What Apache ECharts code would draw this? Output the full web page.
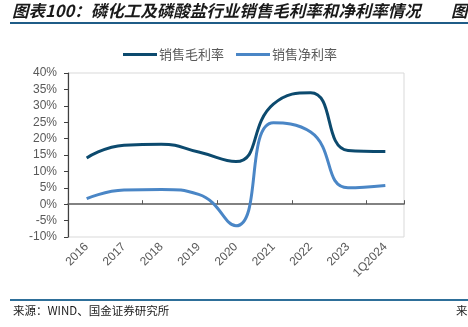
<!DOCTYPE html>
<html><head><meta charset="utf-8">
<script src="https://cdn.jsdelivr.net/npm/echarts@6/dist/echarts.min.js"></script>
<style>html,body{margin:0;padding:0;background:#fff}#c{width:468px;height:327px}</style>
</head><body><div id="c"></div>
<script>
var categories = ['2016','2017','2018','2019','2020','2021','2022','2023','1Q2024'];
var grossMargin = [14.1, 18.0, 18.3, 15.9, 13.0, 30.5, 34.0, 16.4, 16.1];
var netMargin = [1.7, 4.3, 4.5, 3.0, -6.6, 24.8, 22.0, 5.0, 5.7];
var yTicks = {min: -10, max: 40, interval: 5};
var seriesNames = ['销售毛利率', '销售净利率'];
var titleText = '图表100：磷化工及磷酸盐行业销售毛利率和净利率情况';
var sourceText = '来源：WIND、国金证券研究所';

var chart = echarts.init(document.getElementById('c'), null, {renderer: 'canvas'});
var axisFont = 'Liberation Sans, Arial, sans-serif';
chart.setOption({
  animation: false,
  grid: {left: 68, right: 64, top: 73, bottom: 90, show: true, borderColor: '#d9d9d9', borderWidth: 1},
  legend: {
    left: 118, top: 43, icon: 'rect', itemWidth: 34, itemHeight: 3, itemGap: 12,
    textStyle: {color: '#595959', fontSize: 13, fontFamily: 'Noto Sans CJK SC', padding: [0, 0, 0, -3]},
    data: seriesNames
  },
  xAxis: [{
    type: 'category', data: categories, boundaryGap: true,
    axisLine: {show: false, onZero: false}, axisTick: {show: false},
    axisLabel: {rotate: 45, color: '#595959', fontSize: 12, fontFamily: axisFont, margin: 8, interval: 0}
  }, {
    type: 'category', data: categories, boundaryGap: true, position: 'bottom',
    axisLine: {show: true, onZero: true, lineStyle: {color: '#595959', width: 1.5}},
    axisTick: {show: true, inside: true, length: 4, lineStyle: {color: '#595959'}},
    axisLabel: {show: false}
  }],
  yAxis: {
    type: 'value', min: yTicks.min, max: yTicks.max, interval: yTicks.interval,
    splitLine: {show: false},
    axisLine: {show: true, lineStyle: {color: '#404040', width: 1.2}},
    axisTick: {show: true, length: 4, lineStyle: {color: '#404040'}},
    axisLabel: {color: '#595959', fontSize: 12, fontFamily: axisFont, margin: 11, formatter: '{value}%'}
  },
  series: [{
    name: seriesNames[0], type: 'line', data: grossMargin, smooth: 0.5, showSymbol: false,
    lineStyle: {color: '#0c4a6e', width: 3}, itemStyle: {color: '#0c4a6e'}
  }, {
    name: seriesNames[1], type: 'line', data: netMargin, smooth: 0.5, showSymbol: false,
    lineStyle: {color: '#4a86c6', width: 3}, itemStyle: {color: '#4a86c6'}
  }],
  graphic: [
    {type: 'text', left: 12, top: 2, style: {text: titleText, font: 'italic bold 16.5px "Noto Sans CJK SC"', fill: '#1a1a1a'}},
    {type: 'text', left: 451, top: 2, style: {text: '图', font: 'italic bold 16.5px "Noto Sans CJK SC"', fill: '#1a1a1a'}},
    {type: 'rect', shape: {x: 10, y: 22, width: 458, height: 2}, style: {fill: '#1f5c87'}},
    {type: 'rect', shape: {x: 10, y: 299, width: 458, height: 2}, style: {fill: '#2e6f99'}},
    {type: 'text', left: 13, top: 305, style: {text: sourceText, font: '11.5px "Noto Sans CJK SC"', fill: '#1a1a1a'}},
    {type: 'text', left: 456, top: 305, style: {text: '来', font: '11.5px "Noto Sans CJK SC"', fill: '#1a1a1a'}}
  ]
});
</script></body></html>
